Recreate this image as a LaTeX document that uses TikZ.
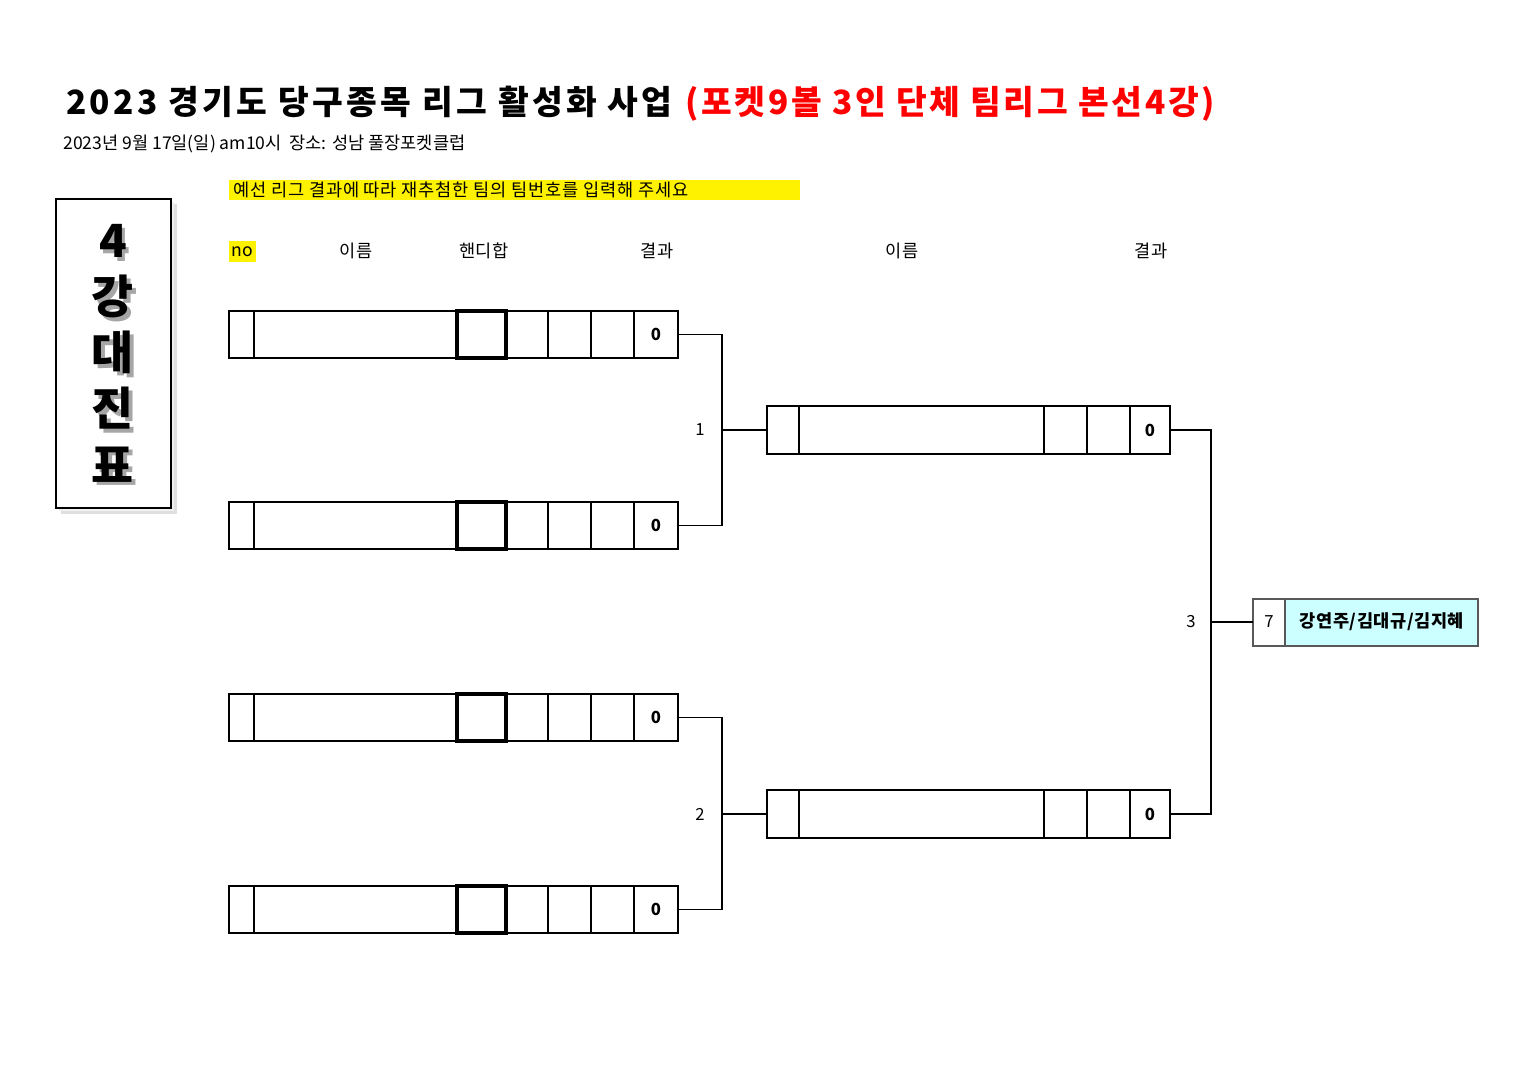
\documentclass[tikz,border=0pt]{standalone}
\usepackage{fontspec}
\setmainfont{Noto Sans CJK KR}
\definecolor{lightcyan}{RGB}{204,255,255}
\newcommand\shch[1]{\makebox[0pt][l]{\hspace{1.8pt}\raisebox{-2.2pt}{\textcolor{black!35}{#1}}}#1}
\begin{document}
\begin{tikzpicture}[x=0.02cm,y=-0.02cm,
  every node/.style={inner sep=0pt},
  txt/.style={font=\fontsize{10}{12}\selectfont},
  outer/.style={line width=1.1pt},
  thinline/.style={line width=0.6pt},
  hcbox/.style={line width=1.8pt},
  conn/.style={line width=1.1pt},
  scorecell/.style={minimum width=0.88cm,minimum height=0.94cm,font=\fontsize{9.5}{11}\selectfont\bfseries},
  scorecellb/.style={minimum width=0.8cm,minimum height=0.96cm,font=\fontsize{9.5}{11}\selectfont\bfseries},
  nocell/.style={minimum width=0.64cm,minimum height=0.96cm},
  bignum/.style={font=\fontsize{26}{32}\selectfont\bfseries,align=center},
  lbl/.style={font=\fontsize{9.5}{11}\selectfont}]
\useasboundingbox (0,0) rectangle (1527,1080);
\fill[white] (0,0) rectangle (1527,1080);

% title
\node[anchor=base west] (title) at (66,114) {\fontsize{19}{22}\selectfont\bfseries\addfontfeatures{LetterSpace=10}2023 경기도 당구종목 리그 활성화 사업};
\node[anchor=base west,text=red] (title2) at (685,114) {\fontsize{19}{22}\selectfont\bfseries\addfontfeatures{LetterSpace=8}(포켓9볼 3인 단체 팀리그 본선4강)};
\node[anchor=base west,txt] (sub) at (63,149) {2023년 9월 17일(일) am10시\ \ 장소: 성남 풀장포켓클럽};

% yellow note
\fill[yellow] (229,180) rectangle (800,200);
\node[anchor=west,txt] (note) at (233,190) {\addfontfeatures{LetterSpace=4.6}예선 리그 결과에 따라 재추첨한 팀의 팀번호를 입력해 주세요};

% headers
\fill[yellow] (229,241) rectangle (256,262);
\node[txt] (hno) at (242,252) {no};
\node[txt] (hname1) at (356,251) {이름};
\node[txt] (hhc) at (484,251) {핸디합};
\node[txt] (hres1) at (657,251) {결과};
\node[txt] (hname2) at (902,251) {이름};
\node[txt] (hres2) at (1151,251) {결과};

% left title box
\fill[black!12] (61,204) rectangle (177,514);
\fill[black!6] (59,202) rectangle (174,511);
\draw[line width=1pt,fill=white] (56,199) rectangle (171,508);
\node[bignum] (vt) at (113,355) {\shch{4}\\\shch{강}\\\shch{대}\\\shch{진}\\\shch{표}};

% round 1 rows
\foreach \y/\n in {311/a,502/b,694/c,886/d}{
  \draw[outer] (229,\y) rectangle (678,\y+47);
  \draw[outer] (254,\y) -- (254,\y+47);
  \draw[thinline] (548,\y) -- (548,\y+47);
  \draw[thinline] (591,\y) -- (591,\y+47);
  \draw[outer] (634,\y) -- (634,\y+47);
  \draw[hcbox] (457,\y) rectangle (506,\y+47);
  \node[scorecell] (s\n) at (656,\y+23.5) {0};
}

% round 2 rows
\foreach \y/\n in {406/a,790/b}{
  \draw[outer] (767,\y) rectangle (1170,\y+48);
  \draw[outer] (799,\y) -- (799,\y+48);
  \draw[thinline] (1044,\y) -- (1044,\y+48);
  \draw[thinline] (1087,\y) -- (1087,\y+48);
  \draw[outer] (1130,\y) -- (1130,\y+48);
  \node[nocell] (q\n) at (783,\y+24) {};
  \node[scorecellb] (r\n) at (1150,\y+24) {0};
}

% final
\fill[lightcyan] (1285,599) rectangle (1478,646);
\draw[line width=0.6pt,black!65] (1253,599) rectangle (1478,646);
\draw[line width=0.6pt,black!65] (1285,599) -- (1285,646);
\node[nocell,minimum height=0.94cm] (f) at (1269,622) {};
\node[lbl] (fno) at (1269,622) {7};
\node[font=\fontsize{10}{12}\selectfont\bfseries] (champ) at (1382,622) {\addfontfeatures{LetterSpace=3}강연주/김대규/김지혜};

% connectors
\coordinate (j1) at ([xshift=-0.9cm]qa.west);
\coordinate (j2) at ([xshift=-0.9cm]qb.west);
\coordinate (j3) at ([xshift=-0.84cm]f.west);
\draw[conn] (sa.east) -| (j1) |- (sb.east);
\draw[conn] (j1) -- (qa.west);
\draw[conn] (sc.east) -| (j2) |- (sd.east);
\draw[conn] (j2) -- (qb.west);
\draw[conn] (ra.east) -| (j3) |- (rb.east);
\draw[conn] (j3) -- (f.west);
\node[lbl] (l1) at (700,430) {1};
\node[lbl] (l2) at (700,814) {2};
\node[lbl] (l3) at (1191,622) {3};
\end{tikzpicture}
\end{document}
